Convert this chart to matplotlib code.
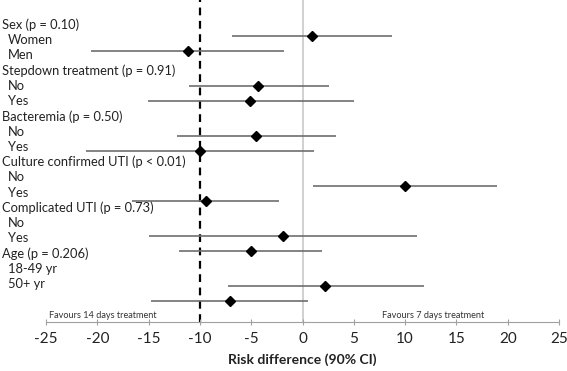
import numpy as np
import matplotlib.pyplot as plt

plt.rcParams['font.family'] = ['Lato', 'DejaVu Sans']

# row labels (headers and subgroups)
labels = ["Sex (p = 0.10)", "Women", "Men",
          "Stepdown treatment (p = 0.91)", "No", "Yes",
          "Bacteremia (p = 0.50)", "No", "Yes",
          "Culture confirmed UTI (p < 0.01)", "No", "Yes",
          "Complicated UTI (p = 0.73)", "No", "Yes",
          "Age (p = 0.206)", "18-49 yr", "50+ yr"]
is_header = [i % 3 == 0 for i in range(len(labels))]

# risk difference estimates and 90% CI, one per subgroup
est = [0.9, -11.2, -4.3, -5.1, -4.5, -10.0, 10.0, -9.4, -1.9, -5.0, 2.2, -7.1]
lo = [-6.9, -20.6, -11.1, -15.1, -12.2, -21.1, 1.0, -16.6, -15.0, -12.0, -7.3, -14.8]
hi = [8.7, -1.8, 2.6, 5.0, 3.3, 1.1, 19.0, -2.3, 11.2, 1.9, 11.8, 0.5]

xticks = np.arange(-25, 30, 5)

W, H = 567, 371
fig = plt.figure(figsize=(W / 100, H / 100), dpi=100)
ax = fig.add_axes([46 / W, 49 / H, (559 - 46) / W, 322 / H])

# vertical y scale in pixel-like rows, top down
ax.set_ylim(322, 0)
ax.set_xlim(-25, 25)

n = len(est)
y_data = np.array([36 + 50 * (i // 2) + 15 * (i % 2) for i in range(n)])

ax.axvline(0, color='#c8c8c8', lw=1.2, zorder=1)
ax.axvline(-10, color='black', lw=1.6, ls=(0, (3.5, 2.5)), zorder=1)

ax.hlines(y_data, lo, hi, color='#6e6e6e', lw=1.2, zorder=2)
ax.plot(est, y_data, 'D', color='black', ms=5, zorder=3)

for i, lab in enumerate(labels):
    ypix = 25 + 15.24 * i
    x0 = 2 if is_header[i] else 8
    ax.text(x0 / W, 1 - ypix / H, lab, transform=fig.transFigure,
            fontsize=9.3, va='center', ha='left', color='#222222')

ax.text(-19.5, 316, "Favours 14 days treatment", fontsize=6.6, ha='center',
        va='center', color='#333333')
ax.text(12.7, 316, "Favours 7 days treatment", fontsize=6.6, ha='center',
        va='center', color='#333333')

for s in ['top', 'right', 'left']:
    ax.spines[s].set_visible(False)
ax.spines['bottom'].set_color('#a0a0a0')
ax.set_yticks([])
ax.set_xticks(xticks)
ax.set_xticklabels([str(t) for t in xticks])
ax.tick_params(axis='x', direction='inout', length=5, color='#a0a0a0',
               labelsize=11, pad=5, labelcolor='#222222')
ax.set_xlabel("Risk difference (90% CI)", fontsize=10, fontweight='bold',
              labelpad=5, color='#222222')

fig.savefig("out.png", dpi=100)
